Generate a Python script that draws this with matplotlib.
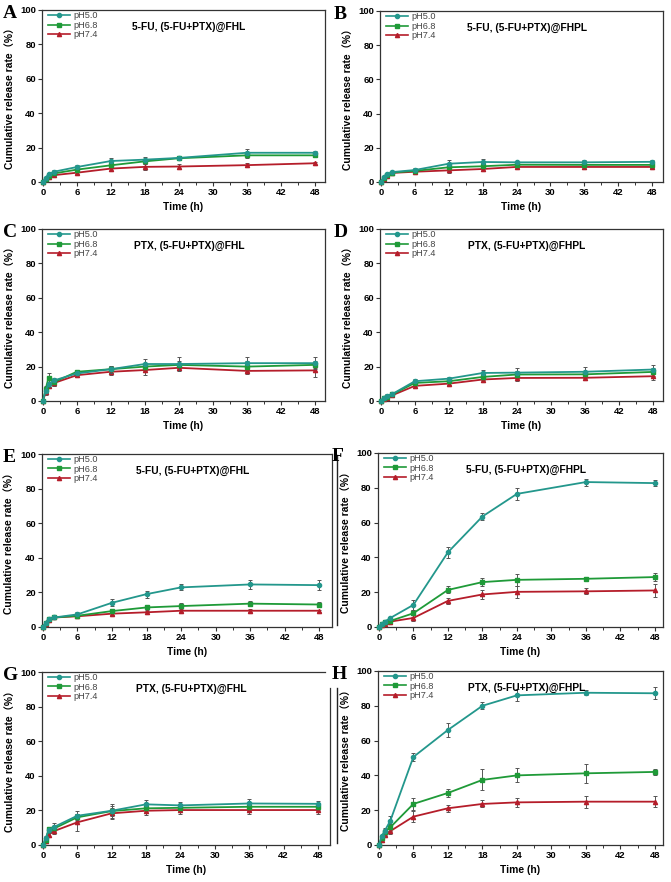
import matplotlib
matplotlib.use("Agg")
import matplotlib.pyplot as plt
from matplotlib.lines import Line2D
from matplotlib.ticker import MultipleLocator

plt.rcParams['font.family'] = ['Liberation Sans', 'Noto Sans CJK SC', 'DejaVu Sans']

# ---------------- data ----------------
time_h = [0, 0.5, 1, 2, 6, 12, 18, 24, 36, 48]
series_labels = ["pH5.0", "pH6.8", "pH7.4"]
panel_letters = ["A", "B", "C", "D", "E", "F", "G", "H"]
panel_titles = ["5-FU, (5-FU+PTX)@FHL", "5-FU, (5-FU+PTX)@FHPL",
                "PTX, (5-FU+PTX)@FHL", "PTX, (5-FU+PTX)@FHPL",
                "5-FU, (5-FU+PTX)@FHL", "5-FU, (5-FU+PTX)@FHPL",
                "PTX, (5-FU+PTX)@FHL", "PTX, (5-FU+PTX)@FHPL"]

a50 = [0, 2.5, 4.5, 6, 8.7, 12.2, 13, 14, 17, 17]
a50e = [0, 0.5, 0.8, 1, 1.2, 1.5, 1.5, 1.2, 2, 1]
a68 = [0, 2, 3.5, 5, 7.2, 9.7, 12, 13.8, 15.5, 15.5]
a68e = [0, 0.5, 0.8, 1, 1, 1.2, 1.5, 1, 1.5, 1.2]
a74 = [0, 1.5, 3, 4, 5.4, 7.8, 8.8, 9, 9.8, 10.9]
a74e = [0, 0.5, 0.6, 0.8, 1, 1.2, 1.8, 1.2, 1.2, 0.8]

b50 = [0, 3, 4.5, 5.8, 7, 10.7, 11.7, 11.5, 11.5, 11.8]
b50e = [0, 0.5, 0.6, 0.8, 1.2, 2, 2, 1, 1.3, 1]
b68 = [0, 2.5, 4, 5.5, 6.5, 8.6, 9.2, 10.1, 10, 10]
b68e = [0, 0.5, 0.5, 0.7, 1, 1.5, 1.2, 1, 1, 1]
b74 = [0, 2, 3.5, 5.3, 6, 6.8, 7.6, 8.8, 8.8, 8.8]
b74e = [0, 0.5, 0.5, 0.7, 0.8, 1.5, 1, 0.8, 1, 0.8]

c50 = [0, 6, 10, 12, 16, 18.5, 21.5, 21.5, 22, 22]
c50e = [0, 1.5, 2, 1.5, 1, 2, 3, 4, 3.5, 3.5]
c68 = [0, 7, 13.5, 11, 17, 18.5, 20, 21, 20, 21]
c68e = [0, 2, 3, 2, 1, 2, 2, 2, 3, 2]
c74 = [0, 5, 9, 10.5, 15, 17, 18, 19.3, 17.5, 17.8]
c74e = [0, 1.5, 1.5, 1.5, 1, 2, 3, 1.5, 2, 4]

d50 = [0, 2, 3, 4, 11.5, 13, 16.3, 16.5, 17, 18.3]
d50e = [0, 0.5, 0.8, 1, 1.5, 1.2, 1.5, 2.5, 2.5, 2.5]
d68 = [0, 1.5, 2.5, 3.8, 10.5, 11.5, 14, 15.4, 15.5, 16.9]
d68e = [0, 0.5, 0.6, 0.8, 1.2, 1.2, 1.5, 2, 2, 2.5]
d74 = [0, 1, 2, 3.3, 8.8, 10.1, 12.5, 13.4, 13.5, 14.4]
d74e = [0, 0.4, 0.5, 0.8, 1, 1, 1.2, 2, 1.5, 2]

e50 = [0, 2.5, 4.5, 5.5, 7.3, 14, 19, 22.9, 24.6, 24.2]
e50e = [0, 0.5, 0.8, 1, 1.2, 2, 2, 1.8, 2.5, 3]
e68 = [0, 2.5, 4.5, 5.5, 6.5, 9.2, 11.3, 12.1, 13.5, 13]
e68e = [0, 0.5, 0.8, 0.8, 1, 1, 1.5, 2, 1.5, 1.5]
e74 = [0, 2, 4, 5.5, 6.2, 7.7, 8.5, 9.4, 9.4, 9.4]
e74e = [0, 0.5, 0.8, 0.8, 0.8, 1, 1, 0.8, 0.8, 0.6]

f50 = [0, 2, 3, 5.2, 12.7, 42.9, 63.5, 76.5, 83.3, 82.7]
f50e = [0, 0.5, 0.6, 0.8, 3, 3, 1.8, 3.5, 2, 1.5]
f68 = [0, 1.5, 3, 3.5, 7.9, 21.3, 25.8, 27.1, 27.7, 28.7]
f68e = [0, 0.5, 0.6, 0.8, 2, 2, 2.5, 3.5, 1, 2.5]
f74 = [0, 1, 2, 3.1, 5.2, 15, 18.7, 20.2, 20.5, 21]
f74e = [0, 0.4, 0.5, 0.6, 1.5, 1.5, 2.5, 3.5, 1.8, 4]

g50 = [0, 4, 8.5, 10.5, 16.9, 19.8, 23.5, 22.9, 24, 23.8]
g50e = [0, 1, 1.5, 2, 2.5, 4, 2.5, 2, 2.5, 1.5]
g68 = [0, 3, 9, 9.6, 16, 19.6, 21.2, 21.5, 22.1, 22.1]
g68e = [0, 1, 1.5, 1.5, 2, 3, 2.5, 2, 2.5, 2]
g74 = [0, 2.5, 6, 8.1, 13.1, 18.3, 19.8, 20.2, 20.2, 20.2]
g74e = [0, 1, 1.5, 1.5, 5, 3, 2.5, 2, 2, 2.5]

h50 = [0, 5, 8, 14, 50.6, 66.1, 80, 86, 87.5, 87.2]
h50e = [0, 1, 1.5, 2.5, 2.5, 4, 2, 3.5, 1.5, 3.5]
h68 = [0, 4, 7.5, 10.2, 23.6, 29.9, 37.4, 40, 41.2, 42]
h68e = [0, 1, 1.5, 2, 3.5, 2.5, 6, 4, 5.5, 1.5]
h74 = [0, 3, 6, 8, 16.3, 21.1, 23.6, 24.5, 24.9, 24.9]
h74e = [0, 1, 1, 1.5, 3, 2, 2, 2.5, 3.5, 3]

panel_data = [
    [(a50, a50e), (a68, a68e), (a74, a74e)],
    [(b50, b50e), (b68, b68e), (b74, b74e)],
    [(c50, c50e), (c68, c68e), (c74, c74e)],
    [(d50, d50e), (d68, d68e), (d74, d74e)],
    [(e50, e50e), (e68, e68e), (e74, e74e)],
    [(f50, f50e), (f68, f68e), (f74, f74e)],
    [(g50, g50e), (g68, g68e), (g74, g74e)],
    [(h50, h50e), (h68, h68e), (h74, h74e)],
]

# ---------------- layout / style ----------------
W, H = 671, 882
fig = plt.figure(figsize=(W / 100, H / 100), dpi=100)

# pixel rects: left, right, top, bottom
rects = [(42, 325, 10, 182), (380, 663, 11, 182),
         (42, 325, 229, 401), (380, 663, 229, 401),
         (42, 332, 454, 627), (378, 663, 453, 627),
         (42, 330, 672, 845), (378, 663, 671, 845)]
xmax_list = [49.8, 49.9, 49.8, 49.8, 50.2, 49.4, 50.1, 49.4]

colors = ["#23978c", "#1f9a38", "#b51d2a"]
markers = ["o", "s", "^"]
spine_c = "#333333"

for i in range(8):
    l, r, t, b = rects[i]
    ax = fig.add_axes([l / W, 1 - b / H, (r - l) / W, (b - t) / H])
    handles = []
    for j in range(3):
        y, e = panel_data[i][j]
        ax.errorbar(time_h, y, yerr=e, color=colors[j], marker=markers[j],
                    markersize=3.0, lw=1.3, ecolor="#555555", elinewidth=0.7,
                    capsize=1.6, capthick=0.7,
                    clip_on=False, zorder=3 - j * 0.1)
        handles.append(Line2D([], [], color=colors[j], marker=markers[j],
                              markersize=3.0, lw=1.2, label=series_labels[j]))
    ax.set_xlim(-0.15, xmax_list[i])
    ax.set_ylim(0, 100)
    ax.set_xticks([0, 6, 12, 18, 24, 30, 36, 42, 48])
    ax.xaxis.set_minor_locator(MultipleLocator(3))
    ax.set_yticks([0, 20, 40, 60, 80, 100])
    ax.tick_params(axis="both", which="major", direction="out", length=3,
                   width=0.8, color=spine_c, labelsize=6.8, pad=1.5)
    ax.tick_params(axis="x", which="minor", direction="out", length=2,
                   width=0.7, color=spine_c)
    for lab in ax.get_xticklabels() + ax.get_yticklabels():
        lab.set_fontweight("bold")
    for s in ax.spines.values():
        s.set_color(spine_c)
        s.set_linewidth(0.9)
    ax.set_xlabel("Time (h)", fontsize=7.4, fontweight="bold")
    ax.xaxis.set_label_coords(0.5, -0.115)
    ax.set_ylabel("Cumulative release rate（%）", fontsize=7.4, fontweight="bold",
                  family=["Liberation Sans", "Noto Sans CJK SC"])
    ax.yaxis.set_label_coords(-0.095, 0.5)
    ax.text(0.52, 0.9, panel_titles[i], transform=ax.transAxes, ha="center",
            va="center", fontsize=7.4, fontweight="bold")
    leg = ax.legend(handles=handles, loc="upper left", bbox_to_anchor=(0.0, 1.03),
                    frameon=False, fontsize=6.6, handlelength=2.4,
                    handletextpad=0.35, labelspacing=0.05, borderaxespad=0.3)
    for txt in leg.get_texts():
        txt.set_color("#444444")
    # panel letter
    fig.text((l - 39) / W if i % 2 == 0 else (l - 46) / W, 1 - (t - 5) / H,
             panel_letters[i], fontsize=14, fontweight="bold",
             family="Liberation Serif", va="top", ha="left")
    if i == 6:
        ax.spines["right"].set_bounds(0, 90.7)
        ax.spines["top"].set_bounds(-0.15, 49.2)

# scan artifacts: vertical rules at left of F and H
fig.add_artist(Line2D([337 / W, 337 / W], [1 - 455 / H, 1 - 625 / H],
                      color="#222222", lw=1.0))
fig.add_artist(Line2D([337 / W, 337 / W], [1 - 688 / H, 1 - 843 / H],
                      color="#222222", lw=1.0))

fig.savefig("out.png", dpi=100)
